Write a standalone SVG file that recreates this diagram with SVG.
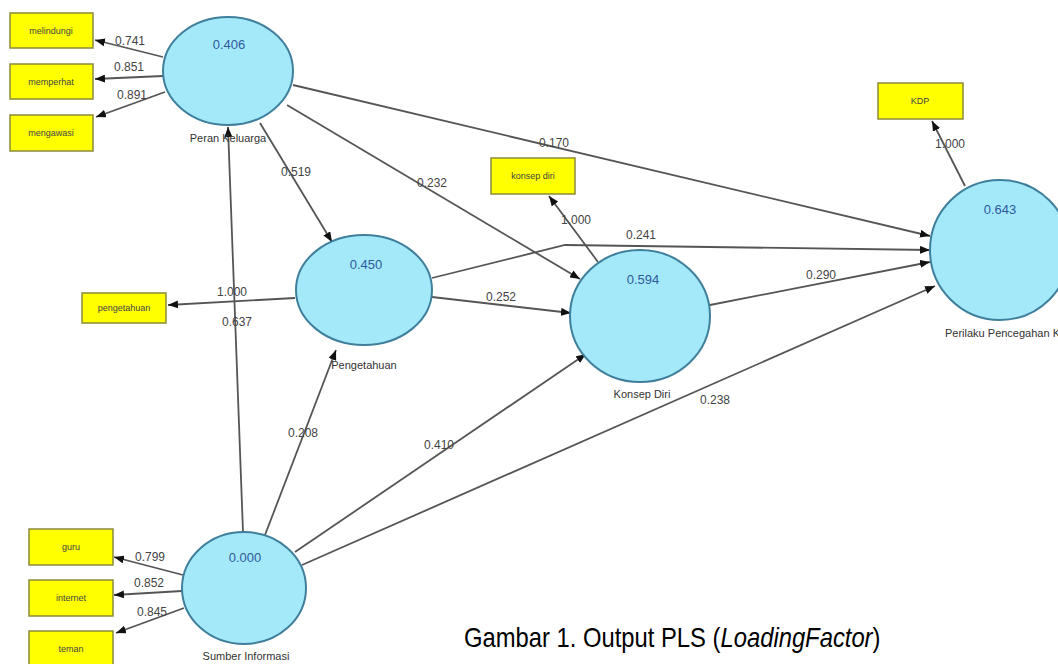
<svg xmlns="http://www.w3.org/2000/svg" width="1058" height="664" viewBox="0 0 1058 664">
<defs>
<marker id="arr" markerUnits="userSpaceOnUse" markerWidth="10" markerHeight="8" refX="10" refY="4" orient="auto">
<path d="M0,0 L10,4 L0,8 z" fill="#111"/>
</marker>
<style>
.lv{fill:#a4e9fa;stroke:#3f7f9c;stroke-width:2}
.ind{fill:#ffff00;stroke:#8a8a3a;stroke-width:1.5}
.ln{fill:none;stroke:#555;stroke-width:1.8;marker-end:url(#arr)}
.val{font-family:"Liberation Sans",Arial,sans-serif;font-size:13px;fill:#2f5a9a;text-anchor:middle}
.nm{font-family:"Liberation Sans",Arial,sans-serif;font-size:11px;fill:#333;text-anchor:middle}
.bx{font-family:"Liberation Sans",Arial,sans-serif;font-size:9px;fill:#444;text-anchor:middle}
.co{font-family:"Liberation Sans",Arial,sans-serif;font-size:12px;fill:#444;text-anchor:middle}
.cap{font-family:"Liberation Sans",Arial,sans-serif;font-size:28px;fill:#000}
</style>
</defs>
<rect width="1058" height="664" fill="#fff"/>

<g id="connectors">
<line class="ln" x1="163" y1="57" x2="95" y2="40"/>
<line class="ln" x1="163" y1="76" x2="95" y2="79"/>
<line class="ln" x1="165" y1="92" x2="96" y2="117"/>
<line class="ln" x1="183" y1="575" x2="114" y2="557"/>
<line class="ln" x1="182" y1="591" x2="114" y2="595"/>
<line class="ln" x1="184" y1="608" x2="116" y2="633"/>
<line class="ln" x1="295" y1="298" x2="168" y2="305"/>
<line class="ln" x1="598" y1="262" x2="549" y2="196"/>
<line class="ln" x1="965" y1="186" x2="932" y2="121"/>
<line class="ln" x1="243" y1="532" x2="228" y2="127"/>
<line class="ln" x1="265" y1="535" x2="336" y2="350"/>
<line class="ln" x1="295" y1="552" x2="586" y2="354"/>
<line class="ln" x1="302" y1="565" x2="935" y2="286"/>
<line class="ln" x1="260" y1="123" x2="332" y2="242"/>
<line class="ln" x1="287" y1="105" x2="580" y2="279"/>
<line class="ln" x1="293" y1="85" x2="930" y2="236"/>
<polyline class="ln" points="432,278 565,245 930,250"/>
<line class="ln" x1="432" y1="297" x2="571" y2="313"/>
<line class="ln" x1="710" y1="305" x2="930" y2="262"/>
</g>

<g id="coefs">
<text class="co" x="130" y="45">0.741</text>
<text class="co" x="129" y="71">0.851</text>
<text class="co" x="132" y="99">0.891</text>
<text class="co" x="150" y="561">0.799</text>
<text class="co" x="149" y="587">0.852</text>
<text class="co" x="152" y="616">0.845</text>
<text class="co" x="232" y="296">1.000</text>
<text class="co" x="237" y="326">0.637</text>
<text class="co" x="296" y="176">0.519</text>
<text class="co" x="432" y="187">0.232</text>
<text class="co" x="554" y="147">0.170</text>
<text class="co" x="641" y="239">0.241</text>
<text class="co" x="501" y="301">0.252</text>
<text class="co" x="576" y="224">1.000</text>
<text class="co" x="821" y="279">0.290</text>
<text class="co" x="950" y="148">1.000</text>
<text class="co" x="715" y="404">0.238</text>
<text class="co" x="439" y="449">0.410</text>
<text class="co" x="303" y="437">0.208</text>
</g>

<g id="peran-keluarga">
<ellipse class="lv" cx="228" cy="71" rx="65" ry="54"/>
<text class="val" x="229" y="49">0.406</text>
<text class="nm" x="228" y="142">Peran Keluarga</text>
</g>
<g id="pengetahuan">
<ellipse class="lv" cx="364" cy="290" rx="68" ry="55"/>
<text class="val" x="366" y="269">0.450</text>
<text class="nm" x="364" y="369">Pengetahuan</text>
</g>
<g id="konsep-diri">
<ellipse class="lv" cx="640" cy="316" rx="70" ry="66"/>
<text class="val" x="643" y="284">0.594</text>
<text class="nm" x="642" y="398">Konsep Diri</text>
</g>
<g id="perilaku">
<ellipse class="lv" cx="1000" cy="250" rx="70" ry="70"/>
<text class="val" x="1000" y="214">0.643</text>
<text class="nm" x="945" y="337" style="text-anchor:start">Perilaku Pencegahan K</text>
</g>
<g id="sumber-informasi">
<ellipse class="lv" cx="244" cy="588" rx="62" ry="56"/>
<text class="val" x="245" y="562">0.000</text>
<text class="nm" x="246" y="660">Sumber Informasi</text>
</g>

<g id="ind-melindungi"><rect class="ind" x="10" y="13" width="83" height="35"/><text class="bx" x="51" y="34">melindungi</text></g>
<g id="ind-memperhat"><rect class="ind" x="10" y="64" width="83" height="35"/><text class="bx" x="51" y="85">memperhat</text></g>
<g id="ind-mengawasi"><rect class="ind" x="10" y="115" width="83" height="36"/><text class="bx" x="51" y="136">mengawasi</text></g>
<g id="ind-pengetahuan"><rect class="ind" x="82" y="293" width="84" height="30"/><text class="bx" x="124" y="311">pengetahuan</text></g>
<g id="ind-konsep-diri"><rect class="ind" x="491" y="158" width="84" height="36"/><text class="bx" x="533" y="179">konsep diri</text></g>
<g id="ind-kdp"><rect class="ind" x="878" y="83" width="85" height="36"/><text class="bx" x="920" y="104">KDP</text></g>
<g id="ind-guru"><rect class="ind" x="29" y="529" width="84" height="36"/><text class="bx" x="71" y="550">guru</text></g>
<g id="ind-internet"><rect class="ind" x="29" y="580" width="84" height="36"/><text class="bx" x="71" y="601">internet</text></g>
<g id="ind-teman"><rect class="ind" x="29" y="631" width="84" height="36"/><text class="bx" x="71" y="652">teman</text></g>

<text class="cap" transform="translate(464,647) scale(0.85,1)" x="0" y="0">Gambar 1. Output PLS (<tspan font-style="italic">LoadingFactor</tspan>)</text>
</svg>
